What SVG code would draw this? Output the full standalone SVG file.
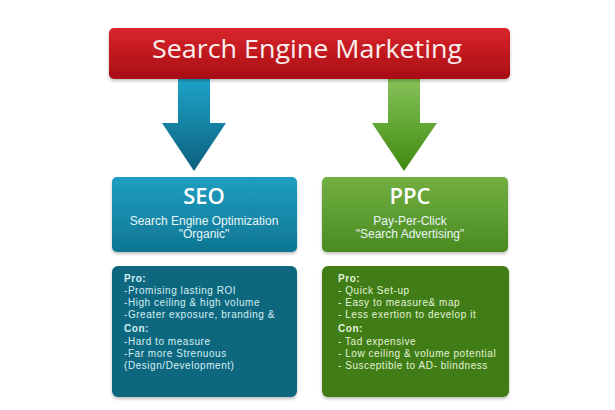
<svg xmlns="http://www.w3.org/2000/svg" width="615" height="410" viewBox="0 0 615 410">
<defs>
<linearGradient id="gRed" x1="0" y1="0" x2="0" y2="1"><stop offset="0" stop-color="#d8262b"/><stop offset="1" stop-color="#a80d14"/></linearGradient>
<linearGradient id="gBlueArrow" x1="0" y1="0" x2="0" y2="1"><stop offset="0" stop-color="#1da3c8"/><stop offset="1" stop-color="#0c5f7e"/></linearGradient>
<linearGradient id="gGreenArrow" x1="0" y1="0" x2="0" y2="1"><stop offset="0" stop-color="#86c25a"/><stop offset="1" stop-color="#3f8a0f"/></linearGradient>
<linearGradient id="gBlueBox" x1="0" y1="0" x2="0" y2="1"><stop offset="0" stop-color="#1f9fc2"/><stop offset="1" stop-color="#0e7592"/></linearGradient>
<linearGradient id="gGreenBox" x1="0" y1="0" x2="0" y2="1"><stop offset="0" stop-color="#72b043"/><stop offset="1" stop-color="#4a8a20"/></linearGradient>
<filter id="sh" x="-10%" y="-10%" width="120%" height="130%"><feDropShadow dx="0" dy="2" stdDeviation="1.5" flood-color="#000" flood-opacity="0.25"/></filter>
<style>
.title{font-family:"Open Sans","Liberation Sans",sans-serif;fill:#fbeeee;font-size:25px;}
.head{font-family:"Open Sans","Liberation Sans",sans-serif;fill:#ffffff;font-size:22px;font-weight:600;text-anchor:middle;}
.sub{font-family:"Liberation Sans",sans-serif;fill:#e8f6f8;font-size:12px;text-anchor:middle;}
.lst{font-family:"Liberation Sans",sans-serif;font-size:10px;letter-spacing:0.55px;}
.b{font-weight:bold;}
.lb{fill:#d6eef3;}
.lg{fill:#e4f3d6;}
</style>
</defs>
<rect width="615" height="410" fill="#ffffff"/>
<g id="connectors">
<path d="M178,79 H210 V123 H226 L194,171 L162,123 H178 Z" fill="url(#gBlueArrow)"/>
<path d="M388,79 H420 V123 H437 L404,171 L372,123 H388 Z" fill="url(#gGreenArrow)"/>
</g>
<g id="sem">
<rect x="109" y="28" width="401" height="51" rx="5" fill="url(#gRed)" filter="url(#sh)"/>
<text class="title" x="307" y="58" text-anchor="middle" textLength="310" lengthAdjust="spacingAndGlyphs">Search Engine Marketing</text>
</g>
<g id="seo">
<rect x="112" y="177" width="185" height="75" rx="5" fill="url(#gBlueBox)" filter="url(#sh)"/>
<text class="head" x="204" y="204">SEO</text>
<text class="sub" x="204" y="225">Search Engine Optimization</text>
<text class="sub" x="204" y="238">"Organic"</text>
</g>
<g id="ppc">
<rect x="322" y="177" width="186" height="75" rx="5" fill="url(#gGreenBox)" filter="url(#sh)"/>
<text class="head" x="410" y="204">PPC</text>
<text class="sub" x="410" y="225">Pay-Per-Click</text>
<text class="sub" x="410" y="238">"Search Advertising"</text>
</g>
<g id="seo-details">
<rect x="112" y="266" width="185" height="131" rx="6" fill="#11687f" filter="url(#sh)"/>
<text class="lst lb b" x="124" y="282">Pro:</text>
<text class="lst lb" x="124" y="294">-Promising lasting ROI</text>
<text class="lst lb" x="124" y="306">-High ceiling &amp; high volume</text>
<text class="lst lb" x="124" y="318">-Greater exposure, branding &amp;</text>
<text class="lst lb b" x="124" y="332">Con:</text>
<text class="lst lb" x="124" y="345">-Hard to measure</text>
<text class="lst lb" x="124" y="357">-Far more Strenuous</text>
<text class="lst lb" x="124" y="369">(Design/Development)</text>
</g>
<g id="ppc-details">
<rect x="322" y="266" width="187" height="131" rx="6" fill="#3f7d13" filter="url(#sh)"/>
<text class="lst lg b" x="338" y="282">Pro:</text>
<text class="lst lg" x="338" y="294">- Quick Set-up</text>
<text class="lst lg" x="338" y="306">- Easy to measure&amp; map</text>
<text class="lst lg" x="338" y="318">- Less  exertion to develop it</text>
<text class="lst lg b" x="338" y="332">Con:</text>
<text class="lst lg" x="338" y="345">- Tad expensive</text>
<text class="lst lg" x="338" y="357">- Low ceiling &amp; volume potential</text>
<text class="lst lg" x="338" y="369">- Susceptible to AD- blindness</text>
</g>
</svg>
